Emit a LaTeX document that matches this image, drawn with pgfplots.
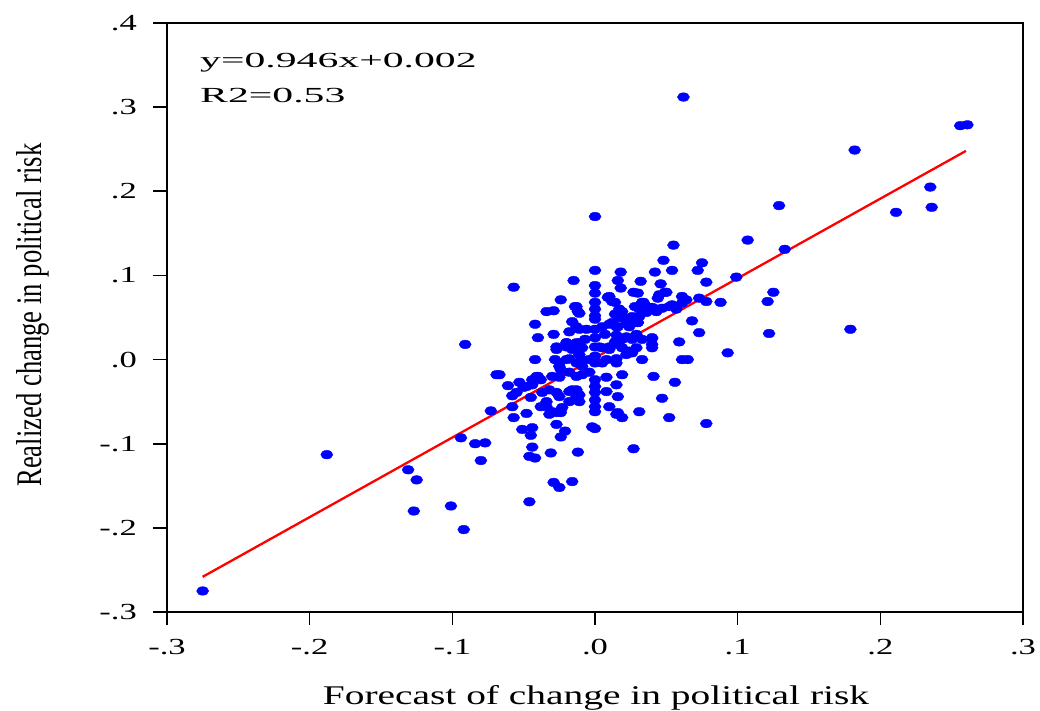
\documentclass[border=0pt]{standalone}
\usepackage{fontspec}
\setmainfont{Liberation Serif}
\newfontfamily\eqfont[FakeStretch=1.94]{Liberation Serif}
\newfontfamily\tickfont[FakeStretch=1.5]{Liberation Serif}
\newfontfamily\xlabfont[FakeStretch=1.46]{Liberation Serif}
\newfontfamily\ylabfont[FakeStretch=0.74]{Liberation Serif}
\usepackage{pgfplots}
\pgfplotsset{compat=1.18}
\begin{document}
\begin{tikzpicture}
\useasboundingbox (0,0) rectangle (1040pt,711pt);
\begin{axis}[
  at={(167pt,99pt)}, anchor=south west,
  scale only axis, width=856pt, height=589pt,
  xmin=-0.3, xmax=0.3, ymin=-0.3, ymax=0.4,
  xtick={-0.3,-0.2,-0.1,0,0.1,0.2,0.3},
  xticklabels={-.3,-.2,-.1,.0,.1,.2,.3},
  ytick={-0.3,-0.2,-0.1,0,0.1,0.2,0.3,0.4},
  yticklabels={-.3,-.2,-.1,.0,.1,.2,.3,.4},
  xtick pos=bottom, ytick pos=left, tick align=outside, major tick length=13pt,
  axis line style={line width=2.8pt},
  every tick/.style={draw=black, line width=1.6pt},
  xticklabel style={font=\fontsize{23}{23}\tickfont, anchor=base, inner sep=0pt, yshift=-30pt},
  yticklabel style={font=\fontsize{23}{23}\tickfont, anchor=east, inner sep=0pt, xshift=-17pt},
]
\addplot[only marks, mark=*, mark size=4.3pt, mark options={xscale=1.4, fill=blue, draw=blue, line width=0.4pt}, color=blue] coordinates {
(0.062,0.312) (-0.275,-0.275) (-0.188,-0.113) (-0.131,-0.131) (-0.125,-0.143)
(-0.127,-0.180) (-0.101,-0.174) (-0.092,-0.202) (-0.094,-0.093) (-0.091,0.018)
(-0.084,-0.100) (-0.077,-0.099) (-0.080,-0.120) (-0.073,-0.061) (-0.069,-0.018)
(-0.057,0.086) (0.000,0.170) (0.182,0.249) (0.256,0.278) (0.261,0.279)
(0.235,0.205) (0.236,0.181) (0.211,0.175) (0.129,0.183) (0.107,0.142)
(0.133,0.131) (0.099,0.098) (0.125,0.080) (0.121,0.069) (0.088,0.068)
(0.122,0.031) (0.179,0.036) (0.093,0.008) (0.078,-0.076) (0.055,0.136)
(0.052,-0.069) (0.047,-0.046) (0.056,-0.027) (0.041,-0.020) (0.031,-0.062)
(0.027,-0.106) (0.000,-0.082) (-0.012,-0.110) (-0.031,-0.111) (-0.029,-0.146)
(-0.025,-0.152) (-0.016,-0.145) (-0.046,-0.169) (-0.046,-0.115) (-0.042,-0.117)
(-0.044,-0.104) (-0.051,-0.083) (-0.044,-0.081) (-0.045,-0.090) (-0.027,-0.077)
(-0.021,-0.085) (-0.024,-0.092) (-0.002,-0.080) (0.015,-0.065) (0.010,-0.056)
(0.016,-0.063) (0.019,-0.069)
(0.000,0.106) (0.000,0.088) (0.000,0.079) (0.000,0.068) (0.000,0.060) (0.000,0.052)
(0.000,0.048) (0.000,0.036) (0.000,0.026) (0.000,0.015) (0.000,0.004) (0.000,-0.004)
(0.000,-0.024) (0.000,-0.032) (0.000,-0.039) (0.000,-0.048) (0.000,-0.056) (0.000,-0.062)
(0.018,0.104) (0.016,0.094) (-0.015,0.094) (0.032,0.093) (0.042,0.104) (0.048,0.118)
(0.054,0.106) (0.072,0.106) (0.075,0.115) (0.046,0.090) (0.078,0.092) (0.018,0.085)
(0.027,0.080) (0.030,0.079) (0.010,0.075) (0.049,0.080) (0.061,0.075) (0.073,0.073)
(-0.024,0.071) (0.044,0.073) (0.014,0.068) (0.034,0.068) (0.054,0.065) (0.061,0.067)
(0.064,0.071) (0.078,0.069) (-0.034,0.057) (-0.029,0.058) (-0.013,0.063) (-0.011,0.055)
(0.017,0.060) (0.014,0.054) (0.019,0.052) (0.028,0.063) (0.031,0.060) (0.026,0.051)
(0.043,0.060) (0.047,0.061) (0.052,0.063) (0.057,0.060) (0.068,0.046) (-0.042,0.042)
(-0.016,0.045) (-0.013,0.039) (0.010,0.042) (0.015,0.039) (0.022,0.048) (0.024,0.043)
(0.030,0.044) (0.073,0.032) (0.059,0.021) (-0.040,0.026) (-0.029,0.030) (-0.018,0.033)
(-0.011,0.036) (-0.006,0.036) (0.015,0.029) (0.022,0.027) (0.029,0.030) (0.033,0.024)
(0.040,0.025) (-0.027,0.015) (-0.020,0.020) (-0.016,0.012) (-0.009,0.014) (0.005,0.014)
(0.010,0.015) (0.016,0.018) (0.019,0.014) (0.024,0.010) (0.029,0.014) (0.040,0.014)
(-0.042,0.000) (-0.028,0.000) (-0.025,-0.004) (-0.018,0.001) (-0.013,-0.004) (-0.009,0.000)
(0.008,0.000) (0.015,0.001) (0.022,0.006) (0.026,0.008) (0.033,0.000) (0.061,0.000)
(0.065,0.000) (-0.004,0.000) (0.005,-0.004) (0.015,-0.004) (0.045,0.077) (0.050,0.080)
(0.033,0.068) (0.036,0.063) (0.009,0.074) (0.012,0.069) (0.019,0.057) (0.017,0.050)
(0.022,0.045) (0.012,0.044) (0.016,0.039) (0.024,0.039) (0.030,0.044) (0.031,0.051)
(0.036,0.056) (0.040,0.062) (0.043,0.057) (0.005,0.039) (0.007,0.030) (0.014,0.021)
(0.019,0.024) (0.026,0.024) (0.040,0.026) (0.040,0.018) (-0.014,0.063) (-0.012,0.057)
(-0.007,0.024) (-0.020,0.020) (-0.013,0.020)
(-0.061,-0.031) (-0.050,-0.033) (-0.044,-0.030) (-0.041,-0.020) (-0.038,-0.024)
(-0.030,-0.020) (-0.024,-0.012) (-0.025,-0.021) (-0.018,-0.015) (-0.013,-0.020)
(-0.009,-0.018) (-0.004,-0.015) (0.008,-0.021) (0.008,-0.038) (0.015,-0.030)
(0.019,-0.018) (0.016,-0.044) (-0.058,-0.043) (-0.055,-0.039) (-0.045,-0.045)
(-0.058,-0.056) (-0.048,-0.064) (-0.057,-0.069) (-0.038,-0.056) (-0.034,-0.050)
(-0.027,-0.039) (-0.025,-0.044) (-0.018,-0.050) (-0.013,-0.044) (-0.011,-0.050)
(-0.018,-0.038) (-0.013,-0.036) (-0.032,-0.065) (-0.027,-0.063) (-0.024,-0.060)
(-0.067,-0.018) (-0.053,-0.027) (-0.048,-0.032) (-0.044,-0.024) (-0.040,-0.020)
(-0.037,-0.039) (-0.032,-0.036) (-0.034,-0.056) (-0.030,-0.062) (-0.024,-0.063)
(-0.023,-0.057) (-0.016,-0.036) (-0.011,-0.042) (-0.025,-0.008) (-0.020,0.000)
(-0.009,-0.008) (-0.011,0.006) (-0.027,0.012) (-0.020,0.015) (-0.011,0.020)
(0.003,0.015) (0.010,0.012)
};
\addplot[red, line width=2.3pt] coordinates {(-0.275,-0.2582) (0.26,0.2480)};
\end{axis}
\foreach \k in {0,...,6} {
  \draw[black, line width=1.6pt] ({167pt+\k*142.667pt},99pt) -- ({167pt+\k*142.667pt},87pt);
}
\foreach \k in {0,...,7} {
  \draw[black, line width=1.6pt] (167pt,{99pt+\k*84.143pt}) -- (153pt,{99pt+\k*84.143pt});
}
\node[anchor=base west, inner sep=0pt, font=\fontsize{21.5}{21.5}\eqfont] at (200pt,643pt) {y=0.946x+0.002};
\node[anchor=base west, inner sep=0pt, font=\fontsize{21.5}{21.5}\eqfont] at (200pt,608pt) {R2=0.53};
\node[anchor=base, inner sep=0pt, font=\fontsize{27}{27}\xlabfont] at (596pt,6pt) {Forecast of change in political risk};
\node[anchor=base, inner sep=0pt, rotate=90, font=\fontsize{36}{36}\ylabfont] at (41pt,396pt) {Realized change in political risk};
\end{tikzpicture}
\end{document}
